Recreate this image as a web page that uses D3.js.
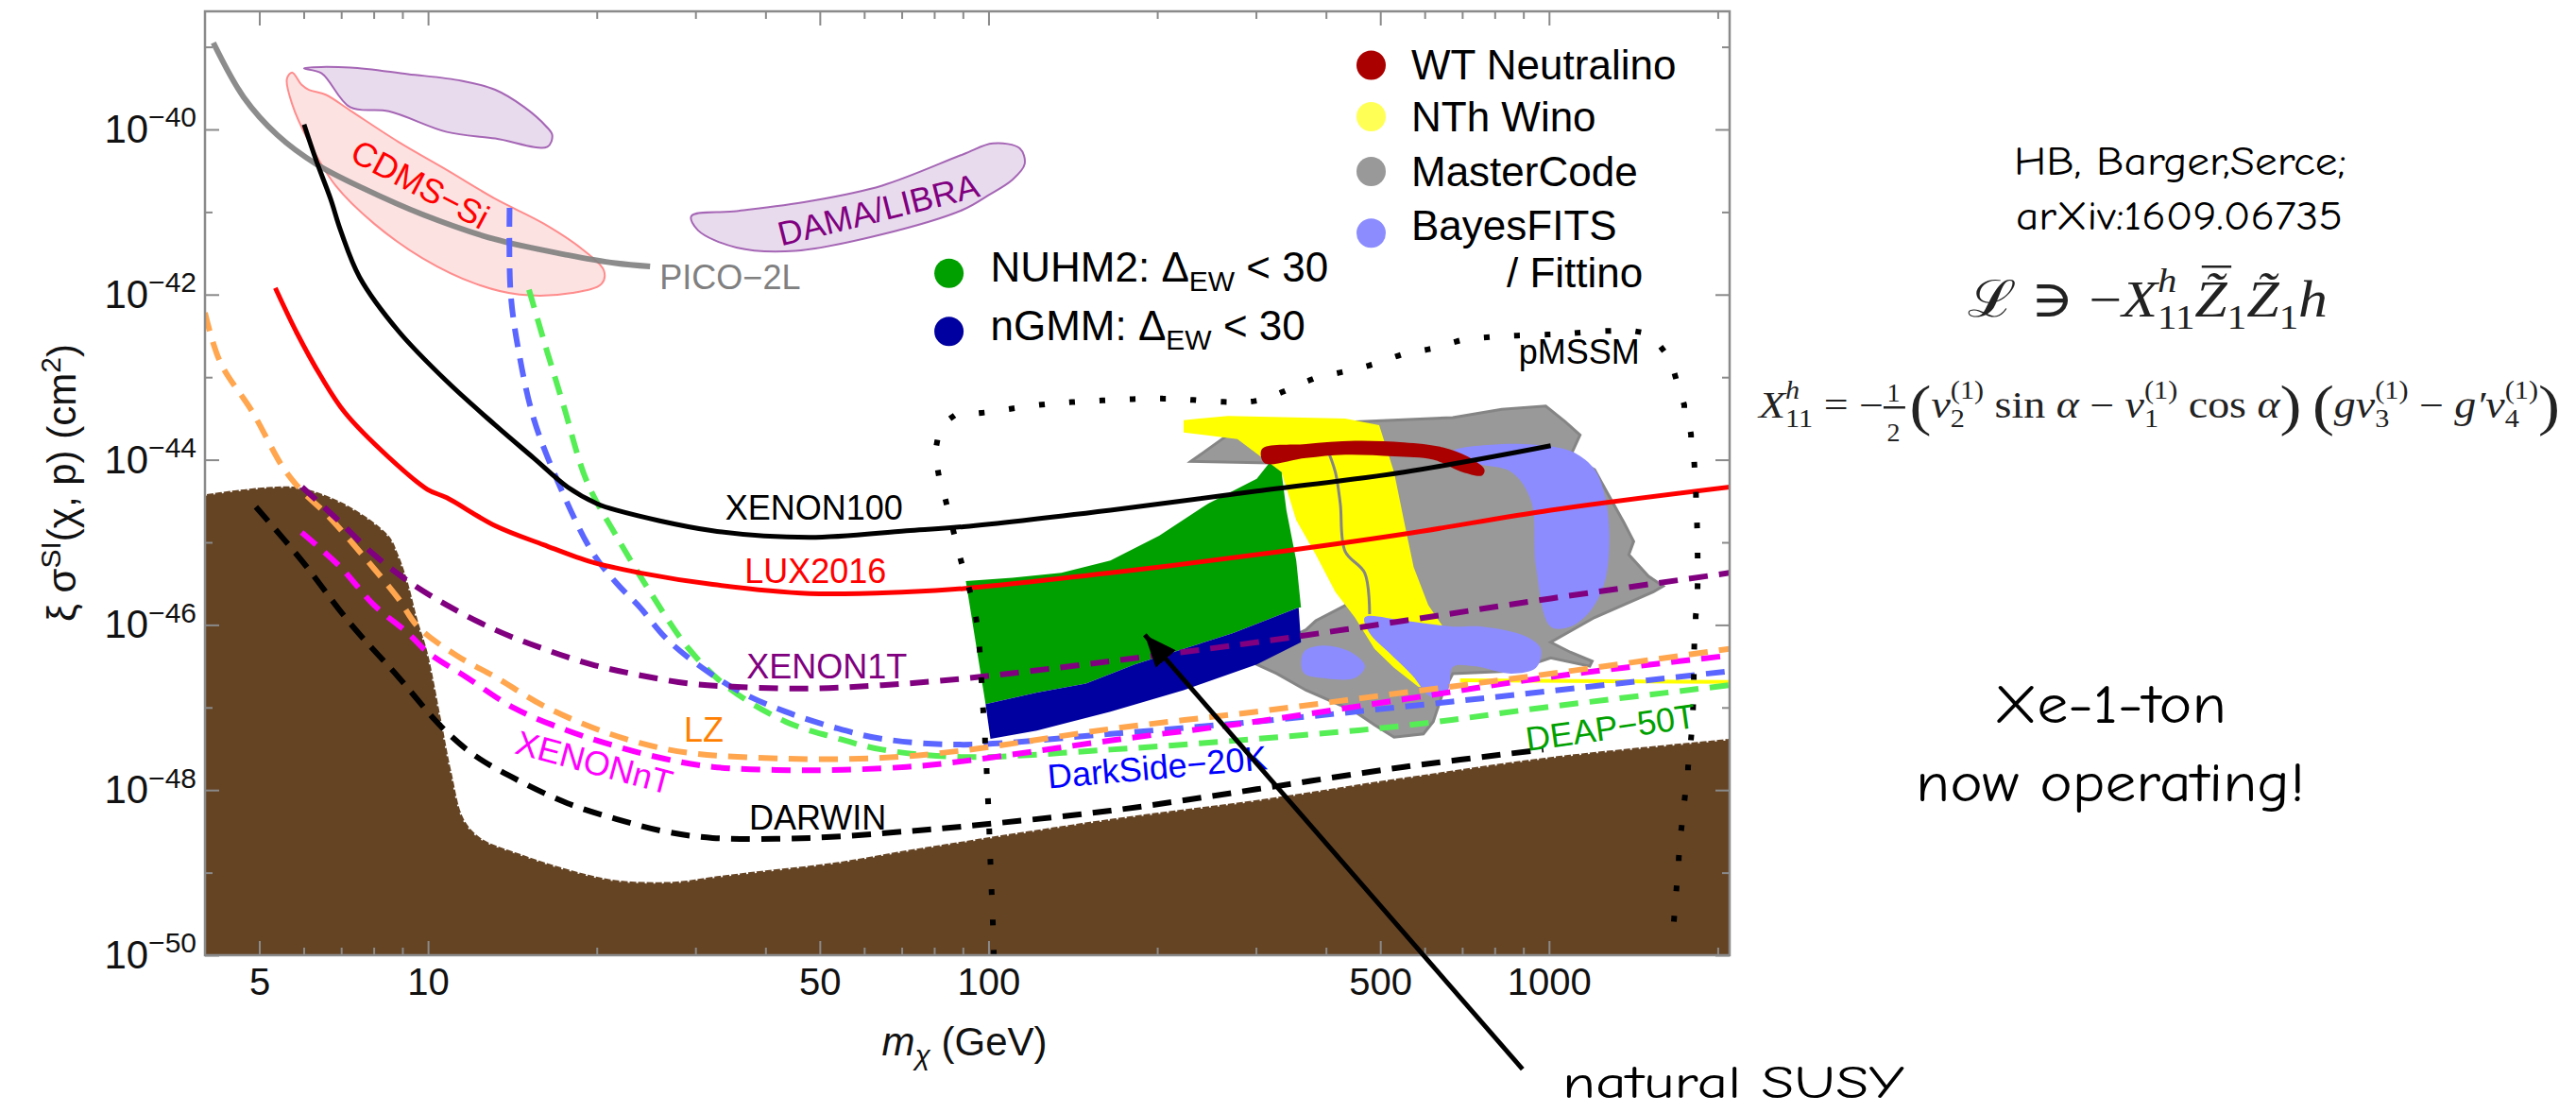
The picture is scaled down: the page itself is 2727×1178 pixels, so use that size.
<!DOCTYPE html>
<html>
<head>
<meta charset="utf-8">
<script src="https://cdn.jsdelivr.net/npm/d3@7"></script>
<style>
  body { margin: 0; background: #fff; }
  svg { display: block; font-family: "Liberation Sans", Arial, sans-serif; }
</style>
</head>
<body>
<svg width="2727" height="1178"></svg>
<script>
// ---- data: [mass in GeV, log10 of cross section in cm^2] ----
const brownFloor = [[4.0,-44.42],[5.18,-44.33],[5.94,-44.34],[7.26,-44.57],[8.51,-44.92],[8.85,-45.15],[9.21,-45.49],[9.59,-45.95],[9.98,-46.33],[10.59,-47.2],[11.01,-47.78],[11.58,-48.35],[12.42,-48.58],[14.56,-48.77],[17.75,-48.96],[21.6,-49.09],[27.5,-49.11],[32.2,-49.05],[39.3,-48.98],[52.9,-48.88],[71.3,-48.73],[90.2,-48.62],[165,-48.35],[301,-48.12],[550,-47.85],[1007,-47.6],[2100,-47.38]];
const pico2L = [[4.14,-38.95],[4.69,-39.61],[5.39,-40.07],[6.32,-40.42],[7.70,-40.72],[9.78,-41.03],[13.16,-41.33],[17.74,-41.52],[21.6,-41.62],[24.9,-41.66]];
const damaLow = [[6.01,-39.26],[7.26,-39.25],[9.21,-39.33],[11.47,-39.41],[13.18,-39.52],[14.85,-39.73],[16.23,-39.96],[16.66,-40.07],[16.33,-40.21],[13.18,-40.11],[10.8,-40.03],[8.51,-39.78],[7.26,-39.73],[6.46,-39.32]];
const damaHigh = [[29.5,-41.05],[35.5,-40.99],[47.9,-40.87],[64.6,-40.68],[90.2,-40.3],[101.8,-40.17],[113.7,-40.23],[116,-40.42],[110.3,-40.61],[99.8,-40.8],[90.2,-40.97],[64.6,-41.27],[45.2,-41.47],[35.5,-41.43],[30.3,-41.22]];
const cdmsSi = [[5.72,-39.31],[5.95,-39.46],[6.13,-39.52],[6.57,-39.58],[7.26,-39.77],[8.85,-40.15],[10.8,-40.49],[13.18,-40.84],[16.08,-41.14],[18.84,-41.45],[20.6,-41.71],[20.4,-41.87],[18.1,-41.98],[14.56,-42.0],[12.17,-41.87],[9.78,-41.56],[8.01,-41.14],[6.84,-40.68],[6.13,-40.15],[5.72,-39.69],[5.60,-39.39]];
const xenon100 = [[6.01,-39.94],[6.32,-40.38],[6.70,-40.84],[6.98,-41.22],[7.55,-41.79],[8.85,-42.44],[10.8,-43.05],[13.18,-43.58],[15.44,-43.98],[17.74,-44.33],[20.0,-44.53],[21.66,-44.61],[32.2,-44.86],[47.96,-44.94],[71.4,-44.86],[90.2,-44.81],[165,-44.61],[301,-44.38],[551,-44.15],[1007,-43.83]];
const lux2016 = [[5.34,-41.92],[5.83,-42.46],[6.44,-42.99],[7.11,-43.43],[8.51,-43.97],[9.98,-44.36],[10.8,-44.46],[13.18,-44.8],[16.08,-45.03],[19.6,-45.24],[23.9,-45.37],[32.2,-45.51],[47.96,-45.62],[71.4,-45.6],[90.2,-45.56],[165,-45.37],[301,-45.15],[551,-44.9],[1007,-44.61],[2100,-44.33]];
const lz = [[4.0,-42.22],[4.26,-42.82],[4.86,-43.42],[5.52,-44.1],[5.96,-44.38],[6.57,-44.65],[7.70,-45.18],[8.85,-45.68],[9.59,-46.02],[11.24,-46.37],[13.18,-46.63],[16.08,-46.98],[19.6,-47.24],[23.9,-47.43],[29.2,-47.55],[43.4,-47.62],[64.6,-47.61],[90.2,-47.52],[165,-47.26],[301,-47.05],[551,-46.82],[1007,-46.59],[2100,-46.29]];
const xenon1T = [[5.96,-44.33],[6.98,-44.76],[8.01,-45.15],[9.21,-45.47],[10.8,-45.76],[13.18,-46.06],[16.08,-46.29],[19.6,-46.48],[23.9,-46.61],[29.2,-46.71],[35.6,-46.75],[47.96,-46.77],[64.6,-46.73],[90.2,-46.65],[165,-46.44],[301,-46.21],[551,-45.95],[1007,-45.68],[2100,-45.37]];
const xenonNT = [[5.95,-44.88],[6.98,-45.3],[8.01,-45.76],[9.21,-46.1],[9.98,-46.33],[11.69,-46.63],[14.27,-47.01],[17.74,-47.28],[21.66,-47.47],[26.4,-47.62],[32.2,-47.72],[47.96,-47.76],[71.4,-47.72],[90.2,-47.65],[165,-47.4],[301,-47.17],[551,-46.9],[1007,-46.63],[2100,-46.37]];
const darwin = [[4.93,-44.57],[5.95,-45.22],[7.26,-45.98],[8.85,-46.63],[10.59,-47.24],[12.17,-47.59],[14.56,-47.89],[17.74,-48.16],[21.66,-48.35],[26.4,-48.5],[32.2,-48.58],[47.96,-48.58],[71.4,-48.5],[90.2,-48.44],[165,-48.25],[301,-47.99],[551,-47.72],[977,-47.51]];
const darkSide20K = [[13.98,-40.95],[14.04,-41.98],[14.56,-42.74],[15.45,-43.51],[17.06,-44.27],[19.6,-45.11],[21.66,-45.49],[23.9,-45.79],[26.4,-46.14],[29.2,-46.4],[35.6,-46.79],[43.4,-47.05],[52.9,-47.24],[64.6,-47.38],[90.2,-47.45],[165,-47.32],[301,-47.17],[551,-46.99],[1007,-46.8],[2100,-46.56]];
const deap50T = [[15.14,-41.94],[16.08,-42.55],[17.41,-43.32],[19.22,-44.27],[21.66,-44.92],[24.9,-45.6],[29.2,-46.29],[34.2,-46.75],[43.4,-47.17],[52.9,-47.36],[64.6,-47.51],[90.2,-47.6],[165,-47.51],[301,-47.38],[551,-47.22],[1007,-46.99],[2100,-46.73]];
const pmssm = [[102.2,-49.97],[101.8,-49.61],[100.8,-48.88],[99.8,-48.12],[97.8,-47.01],[94.9,-45.9],[88.8,-45.16],[83.7,-44.47],[81.2,-44.12],[81.2,-43.75],[86.7,-43.47],[97.8,-43.43],[125.7,-43.33],[161.6,-43.28],[207.8,-43.26],[267.2,-43.3],[304.4,-43.28],[340,-43.16],[383.6,-43.01],[432.8,-42.93],[488.2,-42.84],[550.8,-42.72],[621.4,-42.65],[701.3,-42.55],[798.8,-42.51],[1027,-42.48],[1320,-42.44],[1490,-42.48],[1631,-42.76],[1697,-43.09],[1761,-43.45],[1803,-43.81],[1821,-44.17],[1839,-44.92],[1839,-45.66],[1821,-46.02],[1803,-47.15],[1761,-47.87],[1714,-48.62],[1681,-49.36],[1664,-49.72]];
const nuhm2 = [[91.1,-45.47],[110.3,-45.43],[134.9,-45.37],[165,-45.22],[201.6,-44.92],[246.6,-44.53],[301,-44.23],[316.9,-44.04],[333.2,-44.15],[340,-44.61],[354,-45.22],[361,-45.79],[357.5,-45.79],[272.5,-46.1],[222.9,-46.29],[182.4,-46.48],[149.2,-46.71],[122,-46.82],[98.8,-46.96]];
const ngmm = [[98.8,-46.96],[122,-46.82],[149.2,-46.71],[182.4,-46.48],[222.9,-46.29],[272.5,-46.1],[357.5,-45.79],[361,-46.21],[301,-46.48],[222.9,-46.79],[165,-47.05],[122,-47.28],[100.8,-47.38]];
const masterCode = [[229.7,-44.02],[272.5,-43.66],[333.2,-43.58],[450.4,-43.54],[673.4,-43.49],[823.5,-43.39],[986.5,-43.35],[1069,-43.54],[1136,-43.7],[1091,-43.96],[1206,-44.12],[1256,-44.34],[1360,-44.76],[1416,-44.99],[1388,-45.15],[1504,-45.41],[1598,-45.53],[1535,-45.6],[1206,-45.91],[1007,-46.21],[1091,-46.33],[1194,-46.44],[1182,-46.5],[1007,-46.4],[857,-46.56],[673.4,-46.59],[646.8,-46.82],[621.6,-47.17],[596.9,-47.32],[529.1,-47.36],[488.2,-47.21],[450.4,-47.05],[368.4,-46.79],[326.7,-46.59],[301.3,-46.48],[313.7,-46.29],[368.4,-46.06],[383.6,-45.95],[434.5,-45.76],[426,-45.3],[379.3,-44.73],[350.9,-44.27],[318.4,-44.04]];
const masterContour = [[398.9,-43.81],[415.7,-44.15],[424.2,-44.53],[432.8,-45.11],[469,-45.37],[478.5,-45.87]];
const nthWino = [[222.9,-43.52],[267.5,-43.47],[432.8,-43.5],[497.7,-43.58],[529.1,-44.15],[550.8,-44.73],[573.5,-45.3],[609,-45.76],[646.8,-46.02],[609,-46.75],[584.8,-46.75],[529.1,-46.52],[488.2,-46.29],[450.4,-45.91],[415.7,-45.6],[383.6,-45.15],[354,-44.73],[333.2,-44.15],[278,-43.75],[222.9,-43.67]];
const nthWinoLine = [[694,-46.67],[2100,-46.69]];
const bayesMain = [[673.4,-43.9],[823.5,-43.81],[1007,-43.84],[1113,-43.92],[1206,-44.12],[1256,-44.42],[1281,-44.92],[1256,-45.49],[1182,-45.84],[1091,-46.02],[1007,-46.02],[948,-45.3],[929,-44.5],[857,-44.15],[733.8,-44.04]];
const bayesLow = [[469,-45.91],[550.8,-45.95],[673.4,-46.02],[760,-46.02],[910,-46.14],[967,-46.29],[948,-46.52],[857,-46.59],[733.8,-46.5],[673.4,-46.51],[660,-46.79],[616.2,-46.87],[570,-46.61],[517.3,-46.33],[478.7,-46.1]];
const bayesSmall = [[364.9,-46.33],[394.3,-46.25],[443.1,-46.33],[469.6,-46.5],[451.8,-46.64],[402,-46.65],[364.9,-46.58]];
const wtNeutralino = [[307.5,-43.87],[368.4,-43.81],[450.4,-43.77],[550.8,-43.79],[646.8,-43.85],[715.1,-43.96],[767,-44.12],[759.8,-44.19],[701.2,-44.15],[621.4,-44.0],[529.1,-43.96],[432.8,-43.94],[368.4,-43.98],[310.6,-44.04]];

// ticks
const xMajor = [5, 10, 50, 100, 500, 1000];
const xMinor = [6, 7, 8, 9, 20, 30, 40, 60, 70, 80, 90, 200, 300, 400, 600, 700, 800, 900, 2000];
const yMajorExp = [-50, -48, -46, -44, -42, -40];
const yMinorExp = [-49, -47, -45, -43, -41, -39];

// curve labels: [text, mass, log10 sigma, colour, angle]
const curveLabels = [
  ["XENON100", 33.9, -44.725, "#000000"],
  ["LUX2016", 36.7, -45.489, "#ff0000"],
  ["XENON1T", 37.0, -46.648, "#800080"],
  ["LZ", 28.6, -47.414, "#ff8000"],
  ["DARWIN", 37.4, -48.478, "#000000"],
  ["PICO\u22122L", 25.9, -41.934, "#808080"],
  ["pMSSM", 883, -42.838, "#000000"]
];
const rotatedLabels = [
  ["XENONnT", 19.8, -47.666, "#ff00ff", 15],
  ["DarkSide\u221220K", 200, -47.723, "#0000ff", -5],
  ["DEAP\u221250T", 1288, -47.243, "#00a000", -8],
  ["CDMS\u2212Si", 9.68, -40.664, "#ff0000", 28],
  ["DAMA/LIBRA", 63.6, -40.973, "#800080", -14]
];

const legendItems = ["WT Neutralino", "NTh Wino", "MasterCode", "BayesFITS"];
const legendColors = ["#aa0000", "#ffff55", "#999999", "#8c8cff"];

// ---- layout ----
const svg = d3.select("svg"),
    margin = { top: 12, right: 896, bottom: 167, left: 217 },
    width = +svg.attr("width") - margin.left - margin.right,
    height = +svg.attr("height") - margin.top - margin.bottom,
    g = svg.append("g").attr("transform", `translate(${margin.left},${margin.top})`);

const x = d3.scaleLog().domain([4, 2100]).range([0, width]);
const y = d3.scaleLog().domain([1e-50, Math.pow(10, -38.57)]).range([height, 0]);
const px = d => x(d[0]);
const py = d => y(Math.pow(10, d[1]));

svg.append("defs").append("clipPath").attr("id", "plot-clip")
  .append("rect").attr("width", width).attr("height", height);

const plot = g.append("g").attr("clip-path", "url(#plot-clip)");

const smooth = d3.line().x(px).y(py).curve(d3.curveCatmullRom.alpha(0.5));
const polygon = d3.line().x(px).y(py).curve(d3.curveLinearClosed);
const blob = d3.line().x(px).y(py).curve(d3.curveCatmullRomClosed.alpha(0.5));

// DAMA/LIBRA and CDMS-Si regions
[damaLow, damaHigh].forEach(d => {
  plot.append("path").attr("d", blob(d))
    .attr("fill", "#e9dbee").attr("stroke", "#a566b5").attr("stroke-width", 2);
});
plot.append("path").attr("d", blob(cdmsSi))
  .attr("fill", "#fde2e2").attr("stroke", "#ff8c8c").attr("stroke-width", 2);

// PICO-2L
plot.append("path").attr("d", smooth(pico2L))
  .attr("fill", "none").attr("stroke", "#808080").attr("stroke-width", 6).attr("stroke-opacity", 0.9);

// neutrino floor (brown)
const floorArea = d3.area().x(px).y0(height).y1(py).curve(d3.curveCatmullRom.alpha(0.5));
plot.append("path").attr("d", floorArea(brownFloor)).attr("fill", "#654424");
plot.append("path").attr("d", smooth(brownFloor))
  .attr("fill", "none").attr("stroke", "#fff").attr("stroke-width", 3)
  .attr("stroke-dasharray", "2,7");

// model regions
plot.append("path").attr("d", polygon(masterCode))
  .attr("fill", "#999999").attr("stroke", "#858585").attr("stroke-width", 3);
plot.append("path").attr("d", polygon(nthWino)).attr("fill", "#ffff00");
plot.append("path").attr("d", smooth(nthWinoLine))
  .attr("fill", "none").attr("stroke", "#ffff00").attr("stroke-width", 4);
[bayesMain, bayesLow, bayesSmall].forEach(d => {
  plot.append("path").attr("d", blob(d)).attr("fill", "#8c8cff");
});
plot.append("path").attr("d", smooth(masterContour))
  .attr("fill", "none").attr("stroke", "#858585").attr("stroke-width", 3);
plot.append("path").attr("d", polygon(nuhm2)).attr("fill", "#00a000");
plot.append("path").attr("d", polygon(ngmm)).attr("fill", "#0000a0");
plot.append("path").attr("d", blob(wtNeutralino)).attr("fill", "#aa0000");

// projected (dashed) and current (solid) limits
const limits = [
  { data: darwin, color: "#000000", dash: "20,12" },
  { data: deap50T, color: "#55ee55", dash: "20,12" },
  { data: darkSide20K, color: "#5a66ff", dash: "20,12" },
  { data: xenonNT, color: "#ff00ff", dash: "20,12" },
  { data: lz, color: "#ffa64f", dash: "20,12" },
  { data: xenon1T, color: "#800080", dash: "20,12" },
  { data: lux2016, color: "#ff0000", dash: null },
  { data: xenon100, color: "#000000", dash: null }
];
limits.forEach(l => {
  plot.append("path").attr("d", smooth(l.data))
    .attr("fill", "none").attr("stroke", l.color)
    .attr("stroke-width", l.dash ? 6 : 5)
    .attr("stroke-dasharray", l.dash);
});

// pMSSM dotted outline
plot.append("path").attr("d", smooth(pmssm))
  .attr("fill", "none").attr("stroke", "#000").attr("stroke-width", 6)
  .attr("stroke-linecap", "square").attr("stroke-dasharray", "0.1,32");

// curve labels
curveLabels.forEach(([t, m, e, c]) => {
  g.append("text").attr("x", x(m)).attr("y", y(Math.pow(10, e)))
    .attr("font-size", 36).attr("fill", c).text(t);
});
rotatedLabels.forEach(([t, m, e, c, a]) => {
  g.append("text")
    .attr("transform", `translate(${x(m)},${y(Math.pow(10, e))}) rotate(${a})`)
    .attr("text-anchor", "middle").attr("dominant-baseline", "central")
    .attr("font-size", 36).attr("fill", c).text(t);
});

// ---- axes (Mathematica-style frame ticks pointing inward) ----
function styleAxis(sel) {
  sel.select(".domain").remove();
  sel.selectAll(".tick line").attr("stroke", "#8a8a8a").attr("stroke-width", 2);
}
g.append("g").attr("transform", `translate(0,${height})`)
  .call(d3.axisBottom(x).tickValues(xMajor).tickSize(-15).tickPadding(14).tickFormat(d3.format("d")))
  .call(styleAxis)
  .call(a => a.selectAll("text").attr("font-size", 40).attr("fill", "#111").attr("font-family", "Liberation Sans, Arial"));
g.append("g").attr("transform", `translate(0,${height})`)
  .call(d3.axisBottom(x).tickValues(xMinor).tickSize(-8).tickFormat(""))
  .call(styleAxis);
g.append("g")
  .call(d3.axisTop(x).tickValues(xMajor).tickSize(-15).tickFormat(""))
  .call(styleAxis);
g.append("g")
  .call(d3.axisTop(x).tickValues(xMinor).tickSize(-8).tickFormat(""))
  .call(styleAxis);

const yMajor = yMajorExp.map(e => Math.pow(10, e));
const yMinor = yMinorExp.map(e => Math.pow(10, e));
g.append("g")
  .call(d3.axisLeft(y).tickValues(yMajor).tickSize(-15).tickPadding(9).tickFormat(""))
  .call(styleAxis)
  .call(a => a.selectAll(".tick text").each(function (d) {
    const t = d3.select(this).attr("font-size", 42).attr("fill", "#111")
      .attr("font-family", "Liberation Sans, Arial");
    t.append("tspan").text("10");
    t.append("tspan").attr("dy", "-0.55em").attr("font-size", 30)
      .text("\u2212" + Math.round(-Math.log10(d)));
  }));
g.append("g")
  .call(d3.axisLeft(y).tickValues(yMinor).tickSize(-8).tickFormat(""))
  .call(styleAxis);
g.append("g").attr("transform", `translate(${width},0)`)
  .call(d3.axisRight(y).tickValues(yMajor).tickSize(-15).tickFormat(""))
  .call(styleAxis);
g.append("g").attr("transform", `translate(${width},0)`)
  .call(d3.axisRight(y).tickValues(yMinor).tickSize(-8).tickFormat(""))
  .call(styleAxis);

g.append("rect").attr("width", width).attr("height", height)
  .attr("fill", "none").attr("stroke", "#8a8a8a").attr("stroke-width", 2.5);

// axis titles
const xt = g.append("text").attr("x", width / 2 - 3).attr("y", height + 106)
  .attr("text-anchor", "middle").attr("font-size", 42).attr("fill", "#111");
xt.append("tspan").attr("font-style", "italic").text("m");
xt.append("tspan").attr("font-size", 30).attr("dy", 10).attr("font-style", "italic").text("\u03c7");
xt.append("tspan").attr("dy", -10).text(" (GeV)");

const yt = svg.append("text").attr("transform", "translate(80,511) rotate(-90)")
  .attr("text-anchor", "middle").attr("font-size", 42).attr("fill", "#111");
yt.append("tspan").text("\u03be \u03c3");
yt.append("tspan").attr("font-size", 30).attr("dy", -16).text("SI");
yt.append("tspan").attr("dy", 16).text("(\u03c7, p) (cm");
yt.append("tspan").attr("font-size", 30).attr("dy", -16).text("2");
yt.append("tspan").attr("dy", 16).text(")");

// ---- legends ----
const leg = svg.append("g").attr("font-size", 44).attr("fill", "#000");
const legendDotY = [69, 123.5, 181.5, 246.7];
const legendBase = [84, 139, 197, 254];
legendItems.forEach((name, i) => {
  leg.append("circle").attr("cx", 1451.5).attr("cy", legendDotY[i]).attr("r", 15.5).attr("fill", legendColors[i]);
  leg.append("text").attr("x", 1494).attr("y", legendBase[i]).text(name);
});
leg.append("text").attr("x", 1595).attr("y", 304).text("/ Fittino");

[["NUHM2: \u0394", "#00a000", 289.3], ["nGMM: \u0394", "#0000a0", 350.7]].forEach(([t, c, cy]) => {
  leg.append("circle").attr("cx", 1004.6).attr("cy", cy).attr("r", 15.5).attr("fill", c);
  const tx = leg.append("text").attr("x", 1048.5).attr("y", cy + 9);
  tx.append("tspan").text(t);
  tx.append("tspan").attr("font-size", 30).attr("dy", 10).text("EW");
  tx.append("tspan").attr("dy", -10).text(" < 30");
});

// ---- arrow to natural SUSY ----
svg.append("defs").append("marker").attr("id", "head")
  .attr("markerUnits", "userSpaceOnUse").attr("markerWidth", 34).attr("markerHeight", 28)
  .attr("refX", 34).attr("refY", 14).attr("orient", "auto")
  .append("path").attr("d", "M0,0 L34,14 L0,28 z").attr("fill", "#000");
const arrowTail = [897, -51.38], arrowHead = [190, -46.12];
g.append("line")
  .attr("x1", px(arrowTail)).attr("y1", py(arrowTail))
  .attr("x2", px(arrowHead)).attr("y2", py(arrowHead))
  .attr("stroke", "#000").attr("stroke-width", 5).attr("marker-end", "url(#head)");

// ---- side annotations (hand-lettered look, widths matched to the slide) ----
const comic = "'Comic Sans MS', 'Comic Neue', 'Noto Sans', sans-serif";
const notes = [
  ["HB, Barger,Serce;", 2308, 185, 42, 352, "middle"],
  ["arXiv:1609.06735", 2307, 243, 42, 346, "middle"],
  ["Xe-1-ton", 2234, 765, 59, 246, "middle"],
  ["now operating!", 2234, 848, 59, 412, "middle"],
  ["natural SUSY", 1654, 1162, 48, 362, "start"]
];
notes.forEach(([t, nx, ny, fs, w, anchor]) => {
  svg.append("text").attr("x", nx).attr("y", ny).attr("text-anchor", anchor)
    .attr("font-family", comic).attr("font-size", fs).attr("fill", "#000")
    .attr("textLength", w).attr("lengthAdjust", "spacingAndGlyphs").text(t);
});

// ---- formulas: run-based typesetting, stretched to the slide's span ----
const serif = "'Liberation Serif', 'DejaVu Serif', serif";
function layoutRuns(parent, x0, y0, size, runs, k) {
  let cx = x0, pend = 0;
  runs.forEach(r => {
    const fs = size * (r.s || 1), dx = (r.dx || 0) * k;
    if (r.frac) {
      const top = parent.append("text").attr("y", y0 - size * 0.42).attr("font-size", fs)
        .attr("font-family", serif).text(r.frac[0]);
      const bot = parent.append("text").attr("y", y0 + size * 0.62).attr("font-size", fs)
        .attr("font-family", serif).text(r.frac[1]);
      const w = (Math.max(top.node().getComputedTextLength(), bot.node().getComputedTextLength()) + 6) * k;
      top.attr("x", cx + dx + 3 * k); bot.attr("x", cx + dx + 3 * k);
      parent.append("rect").attr("x", cx + dx).attr("y", y0 - size * 0.3).attr("width", w).attr("height", 2.5);
      cx += dx + w + 4 * k;
      return;
    }
    const t = parent.append("text").attr("x", cx + dx).attr("y", y0 + (r.dy || 0))
      .attr("font-size", fs).attr("font-family", serif)
      .attr("font-style", r.i ? "italic" : "normal")
      .style("white-space", "pre").text(r.t);
    const w = t.node().getComputedTextLength() * k;
    if (k !== 1 && w > 0) t.attr("textLength", w).attr("lengthAdjust", "spacingAndGlyphs");
    if (r.bar) {
      parent.append("rect").attr("x", cx + dx + fs * 0.12 * k).attr("y", y0 - fs * 1.0)
        .attr("width", w - fs * 0.05 * k).attr("height", 2.5);
    }
    if (r.keep) { pend = Math.max(pend, dx + w); }
    else { cx += Math.max(pend, dx + w); pend = 0; }
  });
  return cx - x0;
}
function typeset(parent, x0, y0, size, runs, target) {
  const probe = parent.append("g");
  const natural = layoutRuns(probe, x0, y0, size, runs, 1);
  probe.remove();
  layoutRuns(parent, x0, y0, size, runs, target / natural);
}
const sup = (t, extra) => Object.assign({ t: t, s: 0.66, dy: -20 }, extra || {});
const sub = (t, extra) => Object.assign({ t: t, s: 0.66, dy: 10 }, extra || {});

const eq1 = svg.append("g").attr("fill", "#222");
typeset(eq1, 2083, 335, 54, [
  { t: "\u2112" }, { t: " \u220b \u2212" }, { t: "X", i: 1 },
  sup("h", { i: 1, dy: -26, keep: 1 }), sub("11", { dy: 13 }),
  { t: "Z\u0303", i: 1, bar: 1 }, sub("1", { dy: 13 }),
  { t: "Z\u0303", i: 1 }, sub("1", { dy: 13 }), { t: "h", i: 1 }
], 381);

const eq2 = svg.append("g").attr("fill", "#222");
typeset(eq2, 1862, 442, 40, [
  { t: "X", i: 1 }, sup("h", { i: 1, keep: 1 }), sub("11"),
  { t: " = \u2212" }, { frac: ["1", "2"], s: 0.7 },
  { t: "(", s: 1.5, dy: 7 }, { t: "v", i: 1 }, sub("2", { keep: 1 }), sup("(1)"),
  { t: " sin " }, { t: "\u03b1", i: 1 }, { t: " \u2212 " },
  { t: "v", i: 1 }, sub("1", { keep: 1 }), sup("(1)"),
  { t: " cos " }, { t: "\u03b1", i: 1 }, { t: ")", s: 1.5, dy: 7 },
  { t: " " }, { t: "(", s: 1.5, dy: 7 }, { t: "g", i: 1 },
  { t: "v", i: 1 }, sub("3", { keep: 1 }), sup("(1)"),
  { t: " \u2212 " }, { t: "g\u2032", i: 1 },
  { t: "v", i: 1 }, sub("4", { keep: 1 }), sup("(1)"),
  { t: ")", s: 1.5, dy: 7 }
], 848);
</script>
</body>
</html>
